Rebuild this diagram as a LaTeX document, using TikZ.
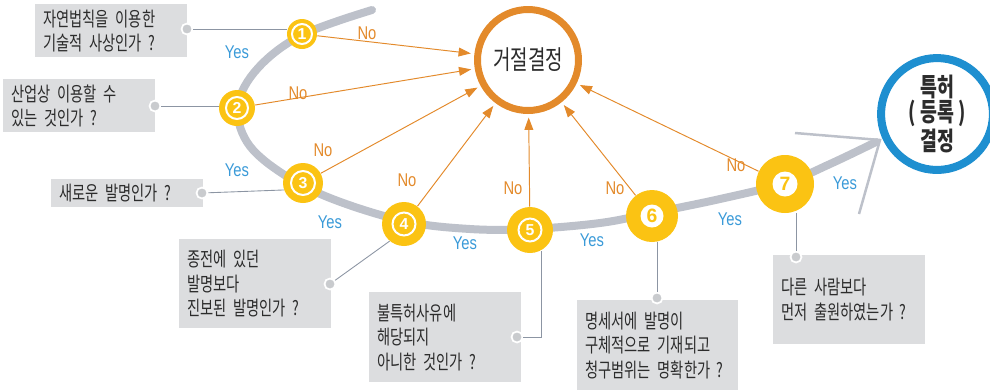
\documentclass[tikz,border=0pt]{standalone}
\usepackage{fontspec}
\setmainfont{Liberation Sans}
\setsansfont{Liberation Sans}
\newfontfamily\krfont[FakeStretch=0.72]{Noto Sans CJK KR}
\newfontfamily\lblfont[FakeStretch=0.8]{Liberation Sans}
\newcommand\qfont{\krfont\fontsize{11.3}{14}\selectfont\spaceskip=0.3em\relax}
\usepackage{tikz}
\usetikzlibrary{arrows.meta}

\definecolor{stepyellow}{HTML}{FBC313}
\definecolor{noorange}{HTML}{E38A2B}
\definecolor{yesblue}{HTML}{3A9AD8}
\definecolor{grantblue}{HTML}{1E8FD0}
\definecolor{curvegray}{HTML}{BDC1CA}
\definecolor{boxgray}{HTML}{DCDDDF}
\definecolor{dotgray}{HTML}{C9CBCE}
\definecolor{linegray}{HTML}{8C95A3}
\definecolor{txtgray}{HTML}{2C2C2C}

\begin{document}
\begin{tikzpicture}[x=0.02cm,y=-0.02cm,
        stepc/.style={circle,fill=stepyellow,inner sep=0pt},
        ringnum/.style={circle,draw=white,line width=0.04cm,text=white,inner sep=0pt,
            font=\sffamily\bfseries\fontsize{9}{9}\selectfont},
        discnum/.style={circle,fill=white,text=stepyellow,inner sep=0pt,
            font=\sffamily\bfseries\fontsize{11}{11}\selectfont},
        qbox/.style={fill=boxgray,text=txtgray,anchor=north west,align=left,
            inner xsep=0.16cm,inner ysep=0pt,text width=2.72cm,font=\qfont},
        qdot/.style={circle,fill=dotgray,draw=white,line width=0.035cm,minimum size=0.22cm,inner sep=0pt},
        qline/.style={draw=linegray,line width=0.5pt},
        noarrow/.style={draw=noorange,line width=0.55pt,-{Triangle[length=7pt,width=5pt]},shorten >=2pt},
        nolbl/.style={text=noorange,font=\lblfont\fontsize{10.5}{10.5}\selectfont},
        yeslbl/.style={text=yesblue,font=\lblfont\fontsize{10.5}{10.5}\selectfont}]

    \useasboundingbox (0,0) rectangle (990,390);

    % the path through the seven questions
    \draw[curvegray,line width=0.16cm,line cap=round] plot[smooth,tension=0.6] coordinates
        {(372,10) (302,35) (258,68) (238,105) (247,142) (280,172) (330,198) (404,221)
         (470,229) (530,229) (600,223) (652,213) (720,199) (785,183) (830,164) (876,142)};
    \coordinate (tip) at (880,140);
    \draw[curvegray,line width=0.05cm] (795,133) -- (tip) -- (859,214);

    % decisions
    \node[circle,draw=noorange,line width=0.14cm,minimum size=2.02cm,outer sep=auto,
          text=txtgray,font=\krfont\fontsize{15}{15}\selectfont] (reject) at (528,60) {거절결정};
    \node[circle,draw=grantblue,line width=0.16cm,minimum size=2.04cm,align=center,
          text=txtgray,font=\krfont\bfseries\fontsize{14.5}{14}\selectfont] (grant) at (937,114)
          {특허\\(\,등록\,)\\결정};

    % questions
    \node[qbox,minimum height=1.06cm] (q1) at (35,4) {자연법칙을 이용한\\기술적 사상인가 ?};
    \node[qbox,minimum height=1.06cm] (q2) at (3,79) {산업상 이용할 수\\있는 것인가 ?};
    \node[qbox,minimum height=0.56cm] (q3) at (51,179) {새로운 발명인가 ?};
    \node[qbox,minimum height=1.78cm] (q4) at (179,239) {종전에 있던\\발명보다\\진보된 발명인가 ?};
    \node[qbox,minimum height=1.8cm] (q5) at (369,292) {불특허사유에\\해당되지\\아니한 것인가 ?};
    \node[qbox,minimum height=1.8cm,text width=2.9cm] (q6) at (577,300) {명세서에 발명이\\구체적으로 기재되고\\청구범위는 명확한가 ?};
    \node[qbox,minimum height=1.78cm] (q7) at (773,255) {다른 사람보다\\먼저 출원하였는가 ?};

    \node[stepc,minimum size=0.6cm] (c1) at (302,34) {};
    \node[stepc,minimum size=0.72cm] (c2) at (237,108) {};
    \node[stepc,minimum size=0.8cm] (c3) at (303,183) {};
    \node[stepc,minimum size=0.88cm] (c4) at (404,224) {};
    \node[stepc,minimum size=0.92cm] (c5) at (530,230) {};
    \node[stepc,minimum size=1.04cm] (c6) at (652,216) {};
    \node[stepc,minimum size=1.16cm] (c7) at (785,184) {};

    % connectors from the boxes
    \node[qdot] (d1) at (187,29) {};
    \node[qdot] (d2) at (155,106) {};
    \node[qdot] (d3) at (202,193) {};
    \node[qdot] (d4) at (330,284) {};
    \node[qdot] (d5) at (517,337) {};
    \node[qdot] (d6) at (657,298) {};
    \node[qdot] (d7) at (796,257) {};
    \draw[qline] (d1) -- (d1 -| c1.west);
    \draw[qline] (d2) -- (d2 -| c2.west);
    \draw[qline] (d3) -- (c3.200);
    \draw[qline] (d4) -- (c4.230);
    \draw[qline] (d5) -| (c5.-62);
    \draw[qline] (d6) -- (d6 |- c6.south);
    \draw[qline] (d7) -- (d7 |- c7.south);

    % numbers
    \node[ringnum,minimum size=0.4cm] at (c1) {1};
    \node[ringnum,minimum size=0.44cm] at (c2) {2};
    \node[ringnum,minimum size=0.48cm] at (c3) {3};
    \node[ringnum,minimum size=0.46cm] at (c4) {4};
    \node[ringnum,minimum size=0.46cm] at (c5) {5};
    \node[discnum,minimum size=0.46cm] at (c6) {6};
    \node[discnum,minimum size=0.5cm] at (c7) {7};

    % rejections
    \foreach \i in {1,...,7}
        \draw[noarrow] (c\i) -- (reject);
    \node[nolbl] (n1) at (367,33) {No};
    \node[nolbl] (n2) at (298,93) {No};
    \node[nolbl] (n3) at (323,150) {No};
    \node[nolbl] (n4) at (407,180) {No};
    \node[nolbl] (n5) at (513,188) {No};
    \node[nolbl] (n6) at (615,188) {No};
    \node[nolbl] (n7) at (736,165) {No};

    \node[yeslbl] (y1) at (237,52) {Yes};
    \node[yeslbl] (y2) at (237,170) {Yes};
    \node[yeslbl] (y3) at (330,222) {Yes};
    \node[yeslbl] (y4) at (465,243) {Yes};
    \node[yeslbl] (y5) at (592,240) {Yes};
    \node[yeslbl] (y6) at (730,219) {Yes};
    \node[yeslbl] (y7) at (845,183) {Yes};
\end{tikzpicture}
\end{document}
